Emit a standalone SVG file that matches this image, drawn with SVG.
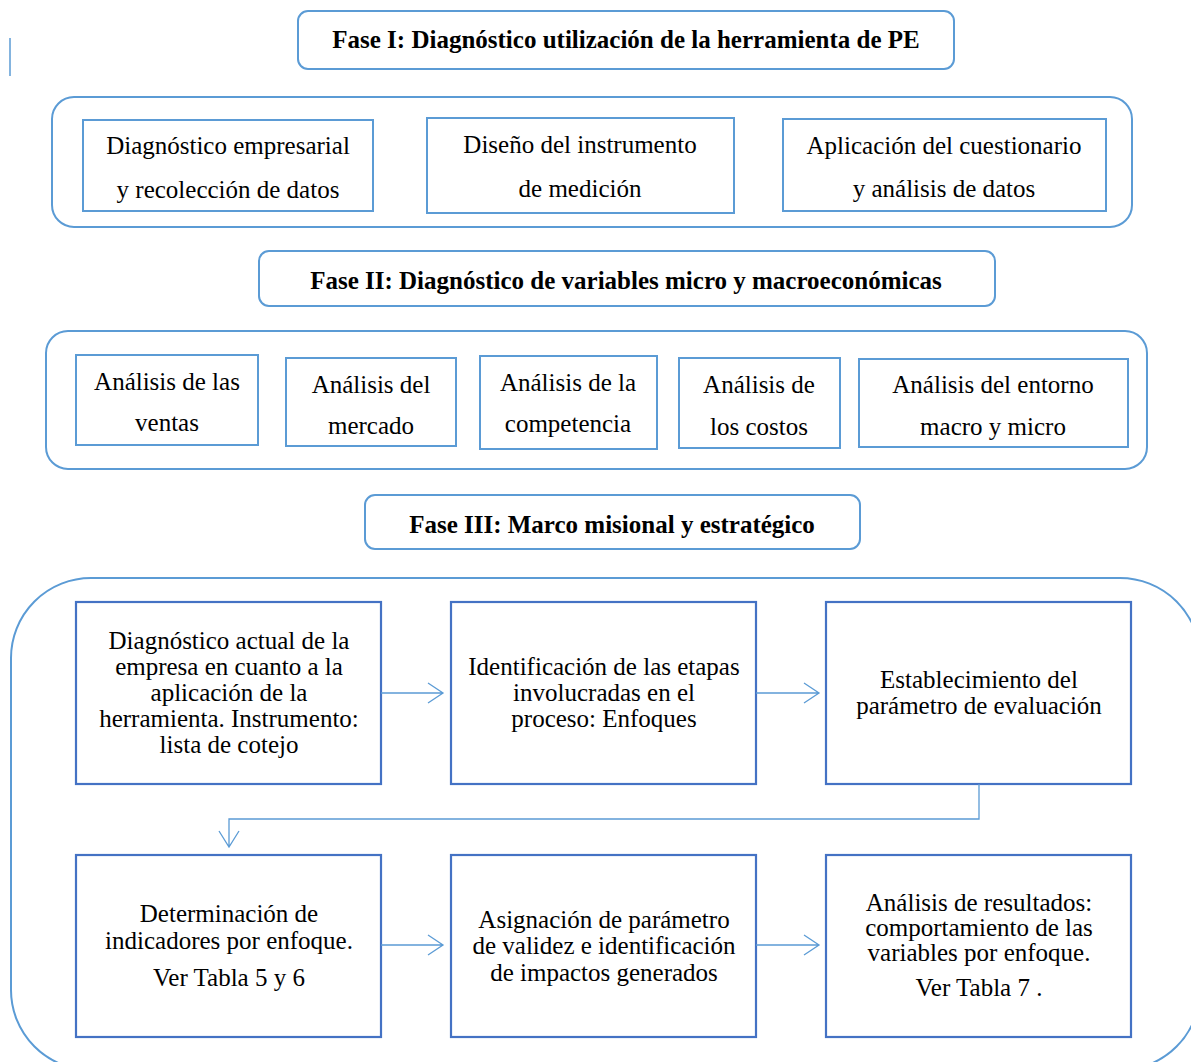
<svg xmlns="http://www.w3.org/2000/svg" width="1191" height="1062" viewBox="0 0 1191 1062" font-family="'Liberation Serif', 'Times New Roman', serif">
<style>
.bg{fill:#ffffff}
.hdr{fill:#ffffff;stroke:#5B9BD5;stroke-width:2}
.cont{fill:none;stroke:#5B9BD5;stroke-width:2}
.box1{fill:#ffffff;stroke:#5B9BD5;stroke-width:2}
.box3{fill:#ffffff;stroke:#4472C4;stroke-width:2.2}
.conn{fill:none;stroke:#5B9BD5;stroke-width:1.3}
.h{font-size:25px;font-weight:bold;text-anchor:middle;fill:#000000}
.t{font-size:25px;text-anchor:middle;fill:#000000}
</style>
<rect class="bg" x="0" y="0" width="1191" height="1062"/>
<line x1="10" y1="38" x2="10" y2="76" stroke="#5B9BD5" stroke-width="1.5"/>

<g id="fase1">
<rect class="hdr" x="298" y="11" width="656" height="58" rx="10"/>
<text class="h" x="626" y="48">Fase I: Diagnóstico utilización de la herramienta de PE</text>
</g>
<g id="cont1"><rect class="cont" x="52" y="97" width="1080" height="130" rx="22"/></g>
<g id="n1a">
<rect class="box1" x="83" y="120" width="290" height="91"/>
<text class="t" x="228" y="154">Diagnóstico empresarial</text>
<text class="t" x="228" y="198">y recolección de datos</text>
</g>
<g id="n1b">
<rect class="box1" x="427" y="118" width="307" height="95"/>
<text class="t" x="580" y="153">Diseño del instrumento</text>
<text class="t" x="580" y="197">de medición</text>
</g>
<g id="n1c">
<rect class="box1" x="783" y="119" width="323" height="92"/>
<text class="t" x="944" y="154">Aplicación del cuestionario</text>
<text class="t" x="944" y="197">y análisis de datos</text>
</g>

<g id="fase2">
<rect class="hdr" x="259" y="251" width="736" height="55" rx="10"/>
<text class="h" x="626" y="289">Fase II: Diagnóstico de variables micro y macroeconómicas</text>
</g>
<g id="cont2"><rect class="cont" x="46" y="331" width="1101" height="138" rx="22"/></g>
<g id="n2a">
<rect class="box1" x="76" y="355" width="182" height="90"/>
<text class="t" x="167" y="390">Análisis de las</text>
<text class="t" x="167" y="431">ventas</text>
</g>
<g id="n2b">
<rect class="box1" x="286" y="358" width="170" height="88"/>
<text class="t" x="371" y="393">Análisis del</text>
<text class="t" x="371" y="434">mercado</text>
</g>
<g id="n2c">
<rect class="box1" x="480" y="356" width="177" height="93"/>
<text class="t" x="568" y="391">Análisis de la</text>
<text class="t" x="568" y="432">competencia</text>
</g>
<g id="n2d">
<rect class="box1" x="679" y="358" width="161" height="90"/>
<text class="t" x="759" y="393">Análisis de</text>
<text class="t" x="759" y="435">los costos</text>
</g>
<g id="n2e">
<rect class="box1" x="859" y="359" width="269" height="88"/>
<text class="t" x="993" y="393">Análisis del entorno</text>
<text class="t" x="993" y="435">macro y micro</text>
</g>

<g id="fase3">
<rect class="hdr" x="365" y="495" width="495" height="54" rx="10"/>
<text class="h" x="612" y="533">Fase III: Marco misional y estratégico</text>
</g>
<g id="cont3"><rect class="cont" x="11" y="578" width="1189" height="492" rx="80"/></g>

<g id="n3a">
<rect class="box3" x="76" y="602" width="305" height="182"/>
<text class="t" x="229" y="649">Diagnóstico actual de la</text>
<text class="t" x="229" y="675">empresa en cuanto a la</text>
<text class="t" x="229" y="701">aplicación de la</text>
<text class="t" x="229" y="727">herramienta. Instrumento:</text>
<text class="t" x="229" y="753">lista de cotejo</text>
</g>
<g id="n3b">
<rect class="box3" x="451" y="602" width="305" height="182"/>
<text class="t" x="604" y="675">Identificación de las etapas</text>
<text class="t" x="604" y="701">involucradas en el</text>
<text class="t" x="604" y="727">proceso: Enfoques</text>
</g>
<g id="n3c">
<rect class="box3" x="826" y="602" width="305" height="182"/>
<text class="t" x="979" y="688">Establecimiento del</text>
<text class="t" x="979" y="714">parámetro de evaluación</text>
</g>
<g id="n3d">
<rect class="box3" x="76" y="855" width="305" height="182"/>
<text class="t" x="229" y="922">Determinación de</text>
<text class="t" x="229" y="949">indicadores por enfoque.</text>
<text class="t" x="229" y="986">Ver Tabla 5 y 6</text>
</g>
<g id="n3e">
<rect class="box3" x="451" y="855" width="305" height="182"/>
<text class="t" x="604" y="928">Asignación de parámetro</text>
<text class="t" x="604" y="954">de validez e identificación</text>
<text class="t" x="604" y="981">de impactos generados</text>
</g>
<g id="n3f">
<rect class="box3" x="826" y="855" width="305" height="182"/>
<text class="t" x="979" y="911">Análisis de resultados:</text>
<text class="t" x="979" y="936">comportamiento de las</text>
<text class="t" x="979" y="961">variables por enfoque.</text>
<text class="t" x="979" y="996">Ver Tabla 7 .</text>
</g>

<g id="connectors">
<path class="conn" d="M381 693 H443 M428 683 L443 693 L428 703"/>
<path class="conn" d="M756 693 H819 M804 683 L819 693 L804 703"/>
<path class="conn" d="M979 784 V819 H229 V847 M219 831 L229 847 L239 831"/>
<path class="conn" d="M381 945 H443 M428 935 L443 945 L428 955"/>
<path class="conn" d="M756 945 H819 M804 935 L819 945 L804 955"/>
</g>
</svg>
